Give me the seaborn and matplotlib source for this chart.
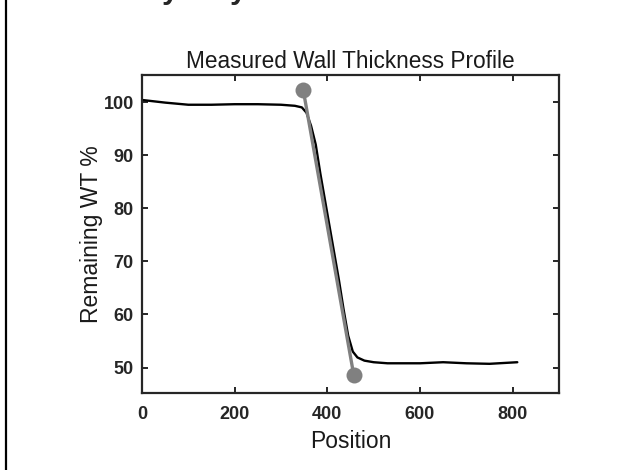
import matplotlib
matplotlib.use("Agg")
import matplotlib.pyplot as plt
from matplotlib.lines import Line2D
import pandas as pd
import seaborn as sns

# measured profile
position = [0, 50, 100, 150, 200, 250, 300, 330, 345, 355, 365, 375, 385,
            395, 405, 415, 425, 435, 445, 455, 465, 480, 500, 530, 560, 600,
            650, 700, 750, 810]
remaining_wt = [100.4, 99.9, 99.5, 99.5, 99.6, 99.6, 99.5, 99.3, 99.0, 98.0,
                95.5, 92.0, 86.5, 81.5, 76.5, 71.5, 66.5, 61.0, 56.0, 53.0,
                51.9, 51.3, 51.0, 50.8, 50.8, 50.8, 51.0, 50.8, 50.7, 51.0]

# fitted slope line end points
fit_pos = [348, 457]
fit_wt = [102.3, 48.6]

x_ticks = [0, 200, 400, 600, 800]
y_ticks = [50, 60, 70, 80, 90, 100]

sns.set_style("ticks")
plt.rcParams["font.family"] = ["Liberation Sans", "DejaVu Sans"]

df = pd.DataFrame({"Position": position, "WT": remaining_wt})
fit = pd.DataFrame({"Position": fit_pos, "WT": fit_wt})

fig = plt.figure(figsize=(6.35, 4.7), dpi=100)
ax = fig.add_axes([0.2236, 0.1638, 0.6567, 0.6766])

sns.lineplot(data=df, x="Position", y="WT", color="black", linewidth=1.7,
             ax=ax, sort=False)
sns.lineplot(data=fit, x="Position", y="WT", color="#808080", linewidth=2.4,
             marker="o", markersize=11.5, markeredgewidth=0, ax=ax, sort=False)

ax.set_xlim(0, 900)
ax.set_ylim(45.2, 105.1)
ax.set_xticks(x_ticks)
ax.set_yticks(y_ticks)
ax.set_title("Measured Wall Thickness Profile", fontsize=16.3, pad=5,
             color="#1a1a1a")
ax.set_xlabel("Position", fontsize=16.5, color="#1a1a1a", labelpad=5)
ax.set_ylabel("Remaining WT %", fontsize=16.5, color="#1a1a1a", labelpad=0)

for s in ax.spines.values():
    s.set_visible(True)
    s.set_linewidth(1.6)
    s.set_color("#262626")
ax.tick_params(direction="in", length=4.5, width=1.4, color="#262626",
               top=True, right=True, labelsize=13, labelcolor="#262626")
ax.tick_params(axis="x", pad=9.5)
ax.tick_params(axis="y", pad=6)
for lab in ax.get_xticklabels() + ax.get_yticklabels():
    lab.set_fontweight("bold")

# page frame edge and clipped heading from the surrounding document
fig.add_artist(Line2D([0.0095, 0.0095], [0, 1], color="black", linewidth=1.6,
                      transform=fig.transFigure))
fig.text(0.268, 1.004, "y", fontsize=22, fontweight="bold", ha="center",
         va="baseline")
fig.text(0.375, 1.004, "y", fontsize=22, fontweight="bold", ha="center",
         va="baseline")

fig.savefig("out.png", dpi=100)
